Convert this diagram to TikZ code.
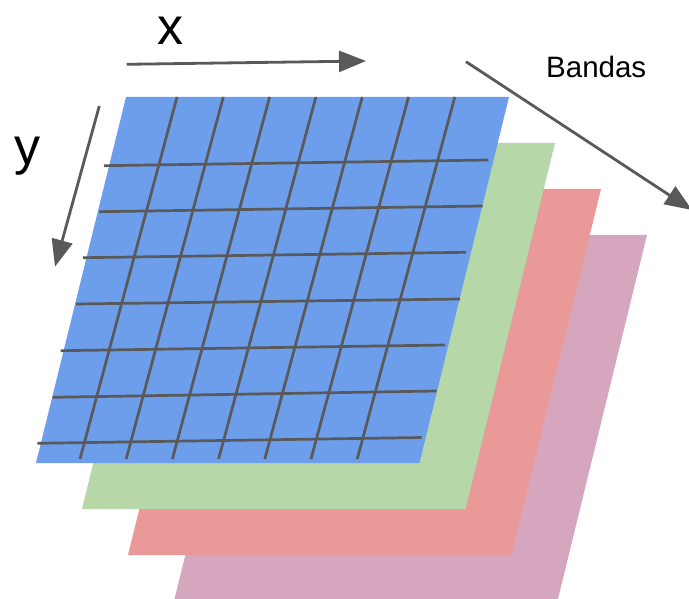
\documentclass[tikz,border=0pt]{standalone}
\usepackage{fontspec}
\setmainfont{Liberation Sans}
\usetikzlibrary{arrows.meta}
\definecolor{bandblue}{HTML}{6D9EEB}
\definecolor{bandgreen}{HTML}{B6D7A8}
\definecolor{bandred}{HTML}{EA9999}
\definecolor{bandpink}{HTML}{D5A6BD}
\definecolor{inkgray}{HTML}{595959}
\begin{document}
\begin{tikzpicture}[x=1pt,y=-1pt,
  band/.style={fill=#1, draw=none},
  gridline/.style={draw=inkgray, line width=2.7pt},
  axisarrow/.style={draw=inkgray, line width=2.8pt,
    -{Triangle[length=27pt,width=21pt]}},
  biglabel/.style={font=\fontsize{52}{52}\selectfont, inner sep=0pt, anchor=base},
  smalllabel/.style={font=\fontsize{29.5}{30}\selectfont, inner sep=0pt, anchor=base west}]
  \useasboundingbox (0,0) rectangle (689,599);
  \clip (0,0) rectangle (689,599);

  % stacked bands, back to front
  \foreach \i/\c in {3/bandpink,2/bandred,1/bandgreen,0/bandblue}{
    \fill[band=\c, shift={(46*\i,46*\i)}]
      (126,97) -- (509,97) -- (419.5,463) -- (36,463) -- cycle;
  }

  % pixel grid on the front band: slanted columns
  \foreach \t/\b in {177/80,223.3/126.2,269.6/172.4,315.9/218.6,362.2/264.8,408.5/311,454.8/357.2}{
    \coordinate (ct) at (\t,97);
    \coordinate (cb) at (\b,459);
    \draw[gridline] (ct) -- (cb);
  }
  % rows
  \foreach \xl/\yl/\xr/\yr in {104/165.7/488.3/160,
                               99/211.7/482.7/206,
                               83/257.7/466/252.3,
                               76/304/460/299,
                               60.7/350.7/445/345,
                               52.7/397.3/436.7/391,
                               37.3/443.3/421.7/437.5}{
    \coordinate (rl) at (\xl,\yl);
    \coordinate (rr) at (\xr,\yr);
    \draw[gridline] (rl) -- (rr);
  }

  % axis arrows
  \coordinate (xs) at (126.7,64.3);
  \coordinate (xe) at (366,61);
  \draw[axisarrow] (xs) -- (xe);
  \coordinate (ys) at (99.3,106);
  \coordinate (ye) at (55,266.7);
  \draw[axisarrow] (ys) -- (ye);
  \coordinate (bs) at (466,61.7);
  \coordinate (be) at (692,210);
  \draw[axisarrow] (bs) -- (be);

  % labels
  \node[biglabel] (xlab) at (170,45) {x};
  \node[biglabel] (ylab) at (27.4,165) {y};
  \node[smalllabel] (blab) at (546,77.3) {Bandas};
\end{tikzpicture}
\end{document}
